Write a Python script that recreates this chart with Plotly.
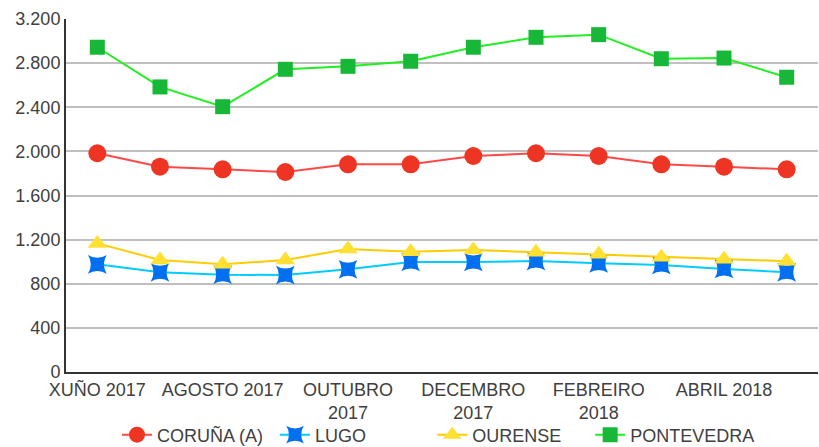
import plotly.graph_objects as go

months = ["XUÑO 2017", "XULLO 2017", "AGOSTO 2017", "SETEMBRO 2017", "OUTUBRO 2017",
          "NOVEMBRO 2017", "DECEMBRO 2017", "XANEIRO 2018", "FEBREIRO 2018",
          "MARZO 2018", "ABRIL 2018", "MAIO 2018"]
tick_vals = ["XUÑO 2017", "AGOSTO 2017", "OUTUBRO 2017", "DECEMBRO 2017", "FEBREIRO 2018", "ABRIL 2018"]
tick_text = ["XUÑO 2017", "AGOSTO 2017", "OUTUBRO<br>2017", "DECEMBRO<br>2017", "FEBREIRO<br>2018", "ABRIL 2018"]

coruna = [1983, 1861, 1837, 1813, 1883, 1883, 1958, 1983, 1958, 1883, 1861, 1837]
lugo = [976, 904, 882, 879, 931, 997, 997, 1006, 985, 970, 934, 904]
ourense = [1166, 1015, 976, 1015, 1115, 1090, 1106, 1085, 1067, 1040, 1022, 1004]
pontevedra = [2944, 2584, 2405, 2744, 2771, 2817, 2944, 3034, 3058, 2840, 2846, 2672]

series = [
    ("CORUÑA (A)", coruna, "#ff4848", "#ee3524", "circle", 18),
    ("LUGO", lugo, "#00ccff", "#0070f0", "star-square", 17),
    ("OURENSE", ourense, "#ffcc00", "#ffe033", "triangle-up", 17),
    ("PONTEVEDRA", pontevedra, "#22ee22", "#17b838", "square", 15),
]
legend_x = [0.0678, 0.278, 0.487, 0.697]

fig = go.Figure()
legends = {}
for i, (name, vals, lc, mc, sym, sz) in enumerate(series):
    lname = "legend" if i == 0 else f"legend{i + 1}"
    fig.add_trace(go.Scatter(
        x=months, y=vals, name=name, mode="lines+markers",
        line=dict(color=lc, width=2),
        marker=dict(color=mc, symbol=sym, size=sz, line=dict(width=0)),
        legend=lname,
    ))
    legends[lname] = dict(orientation="h", x=legend_x[i], xanchor="left",
                          y=0.027, yanchor="middle", yref="container",
                          font=dict(size=18), bgcolor="rgba(0,0,0,0)",
                          itemclick=False, itemdoubleclick=False)

fig.update_layout(
    width=819, height=447,
    margin=dict(l=66, r=1, t=19, b=75, autoexpand=False),
    paper_bgcolor="white", plot_bgcolor="white",
    separators=",.",
    font=dict(family="Liberation Sans, Arial, sans-serif", size=18, color="#404040"),
    showlegend=True,
    xaxis=dict(tickmode="array", tickvals=tick_vals, ticktext=tick_text,
               range=[-0.5, len(months) - 0.5],
               showgrid=False, showline=True, linecolor="#333333", linewidth=2,
               ticks="", tickangle=0, ticklabelstandoff=0, automargin=False),
    yaxis=dict(range=[0, 3200], dtick=400, tickformat=",d",
               showgrid=True, gridcolor="#c0c0c0", gridwidth=1.5,
               showline=True, linecolor="#333333", linewidth=2,
               zeroline=False, ticks="", automargin=False),
    **legends,
)

fig.write_html("out.html", config={"displayModeBar": False},
               post_script="document.body.style.margin='0';document.body.style.overflow='hidden';")
